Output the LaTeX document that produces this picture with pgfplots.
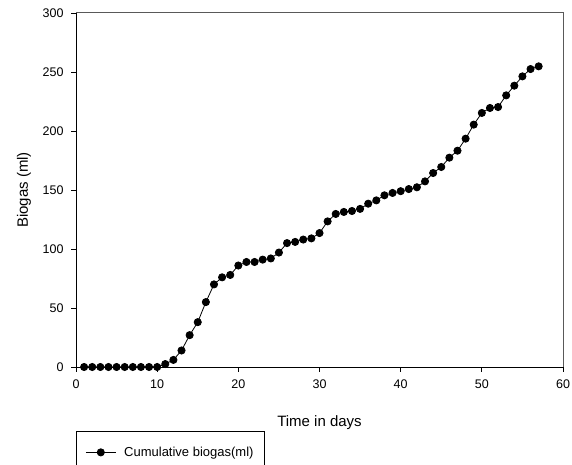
\documentclass[border=0pt]{standalone}
\usepackage{fontspec}
\setmainfont{Liberation Sans}
\usepackage{pgfplots}
\pgfplotsset{compat=1.18}
\begin{document}
\begin{tikzpicture}
\useasboundingbox (0,0) rectangle (572pt,465pt);
\clip (0,0) rectangle (572pt,465pt);
\begin{axis}[
 at={(76pt,98pt)}, anchor=south west,
 scale only axis, width=487pt, height=354pt,
 xmin=0,xmax=60,ymin=0,ymax=300,
 xtick={0,10,...,60}, ytick={0,50,...,300},
 axis x line*=bottom, axis y line*=left,
 axis line style={line width=0.8pt,-},
 tick align=outside, major tick length=5pt,
 tick style={line width=0.8pt,black},
 ticklabel style={font=\fontsize{12.5}{14}\selectfont},
 xticklabel style={yshift=-4pt},
 yticklabel style={xshift=-4pt},
 /pgf/number format/assume math mode=true,
 xlabel={Time in days}, ylabel={Biogas (ml)},
 label style={font=\fontsize{15}{18}\selectfont},
 xlabel style={at={(rel axis cs:0.5,-0.1667)},anchor=base},
 ylabel style={at={(rel axis cs:-0.0986,0.5)},anchor=base},
 legend style={at={(rel axis cs:0,-0.1808)}, anchor=north west, draw=black, line width=0.8pt, inner xsep=9pt, inner ysep=13.5pt, font=\fontsize{13}{15}\selectfont, nodes={inner sep=2pt}, /tikz/every odd column/.append style={column sep=6pt}},
 legend image code/.code={\draw[mark repeat=2,mark phase=2,#1] plot coordinates {(0pt,0pt)(15pt,0pt)(30pt,0pt)};},
 clip=false,
]
\draw[black!65, line width=1pt] (rel axis cs:0,1) -- (rel axis cs:1,1) -- (rel axis cs:1,0);
\addplot[black, line width=0.8pt, mark=*, mark size=3.6pt, mark options={fill=black}] coordinates {
(1,0)(2,0)(3,0)(4,0)(5,0)(6,0)(7,0)(8,0)(9,0)(10,0)
(11,2.5)(12,6)(13,14)(14,27)(15,38)(16,55)(17,70)(18,76)(19,78)(20,86)
(21,89)(22,89)(23,91)(24,92)(25,97)(26,105)(27,106)(28,108)(29,109)(30,113.5)
(31,123.4)(32,129.7)(33,131.4)(34,132.2)(35,134)(36,138.4)(37,141.2)(38,145.5)(39,147.5)(40,149)
(41,150.8)(42,152.3)(43,157.3)(44,164.4)(45,169.5)(46,177.4)(47,183.3)(48,193.5)(49,205.4)(50,215.3)
(51,219.5)(52,220.3)(53,230.2)(54,238.4)(55,246.3)(56,252.5)(57,254.8)
};
\addlegendentry{Cumulative biogas(ml)}
\end{axis}
\end{tikzpicture}
\end{document}
